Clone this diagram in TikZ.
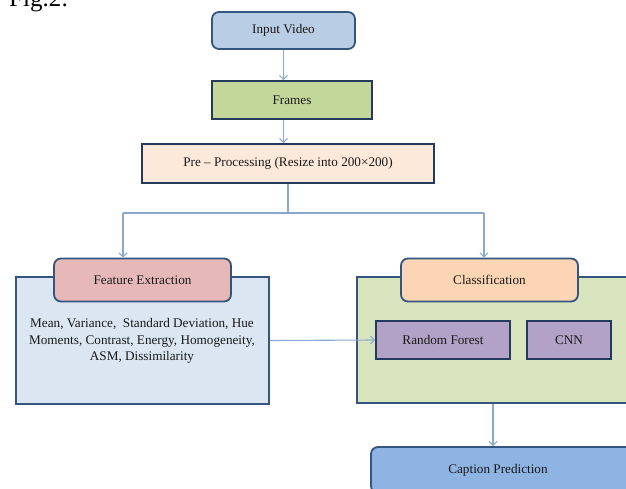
\documentclass[tikz,border=0pt]{standalone}
\usepackage{fontspec}
\setmainfont{Liberation Serif}
\usetikzlibrary{arrows.meta}
\definecolor{edgeblue}{HTML}{34557F}
\definecolor{navy}{HTML}{23395D}
\definecolor{arrowc}{HTML}{8BA9CC}
\definecolor{inputfill}{HTML}{B9CDE5}
\definecolor{framesfill}{HTML}{C4D79B}
\definecolor{prefill}{HTML}{FDE9D9}
\definecolor{fetabfill}{HTML}{E6B9B8}
\definecolor{feboxfill}{HTML}{DCE6F2}
\definecolor{clsboxfill}{HTML}{D7E4BD}
\definecolor{clstabfill}{HTML}{FCD5B5}
\definecolor{purplefill}{HTML}{B3A2C7}
\definecolor{capfill}{HTML}{8EB4E3}
\begin{document}
\begin{tikzpicture}[x=1pt,y=-1pt,
  every node/.style={font=\fontsize{13.2}{15}\selectfont, text=black!90, inner sep=0pt},
  box/.style={draw=navy, line width=1.8pt},
  rbox/.style={draw=edgeblue, line width=1.8pt, rounded corners=7pt},
  bigbox/.style={draw=edgeblue, line width=1.8pt},
  arr/.style={draw=arrowc, line width=1.1pt, -{Straight Barb[length=4pt,width=8pt]}},
  conn/.style={draw=arrowc, line width=1.1pt}]
\useasboundingbox (0,0) rectangle (626,488);
\clip (0,0) rectangle (626,488);
\node[anchor=base west, font=\fontsize{25}{25}\selectfont, text=black] (fig) at (9,6) {Fig.2:};
% top chain
\node[rbox, fill=inputfill, minimum width=143pt, minimum height=37pt] (input) at (283.5,30.5) {Input Video};
\node[box, fill=framesfill, minimum width=160pt, minimum height=38pt] (frames) at (292,100) {Frames};
\node[box, fill=prefill, minimum width=292pt, minimum height=39pt] (pre) at (288,163.5) {Pre -- Processing (Resize into 200×200)};
% big containers
\node[bigbox, fill=feboxfill, minimum width=253pt, minimum height=127pt] (febox) at (142.5,340.5) {};
\node[bigbox, fill=clsboxfill, minimum width=275pt, minimum height=126pt] (clsbox) at (494.5,340) {};
\node[rbox, fill=fetabfill, minimum width=177pt, minimum height=43pt] (fetab) at (142.5,280) {Feature Extraction};
\node[rbox, fill=clstabfill, minimum width=177pt, minimum height=43pt] (clstab) at (489.5,280) {Classification};
\node[align=center, font=\fontsize{13.2}{16.5}\selectfont] (fetext) at (142,341) {Mean, Variance,\ \ Standard Deviation, Hue\\Moments, Contrast, Energy, Homogeneity,\\ASM, Dissimilarity};
\node[box, fill=purplefill, minimum width=134pt, minimum height=38pt] (rf) at (443,340) {Random Forest};
\node[box, fill=purplefill, minimum width=84pt, minimum height=38pt] (cnn) at (569,340) {CNN};
\node[rbox, fill=capfill, minimum width=262pt, minimum height=46pt] (cap) at (502,470) {};
\node (captext) at (498,470) {Caption Prediction};
% connectors
\coordinate (split) at (288,213);
\coordinate (lft) at (123,213);
\coordinate (rgt) at (484,213);
\draw[arr] (input.south) -- (input.south |- frames.north);
\draw[arr] (input.south |- frames.south) -- (input.south |- pre.north);
\draw[conn] (pre.south) -- (split);
\draw[conn] (lft) -- (rgt);
\draw[arr] (lft) -- (lft |- fetab.north);
\draw[arr] (rgt) -- (rgt |- clstab.north);
\draw[arr] (febox.east) -- (rf.west);
\draw[arr] ([xshift=-1.5pt]clsbox.south) -- ([xshift=-1.5pt]clsbox.south |- cap.north);
\end{tikzpicture}
\end{document}
